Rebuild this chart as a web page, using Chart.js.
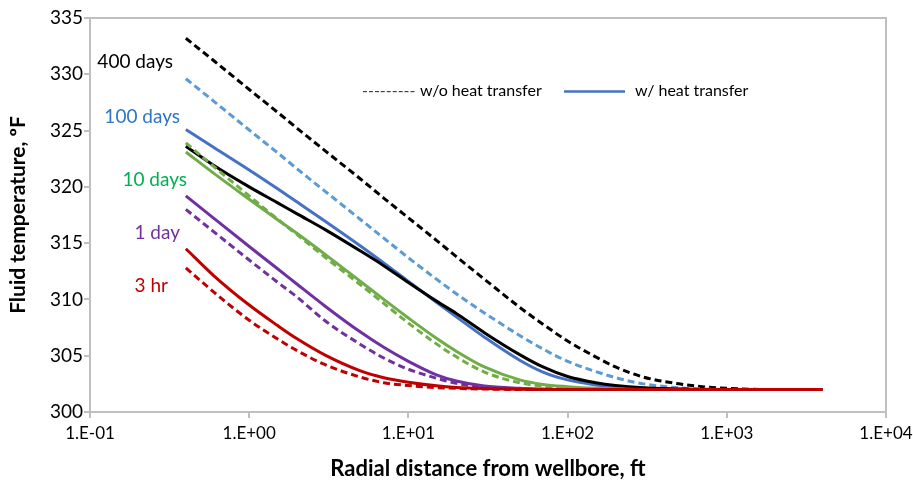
<!DOCTYPE html>
<html>
<head>
<meta charset="utf-8">
<script src="https://cdn.jsdelivr.net/npm/chart.js@4.4.1/dist/chart.umd.min.js"></script>
<style>
  html, body { margin: 0; padding: 0; background: #fff; }
  #wrap { width: 913px; height: 482px; }
</style>
</head>
<body>
<div id="wrap"><canvas id="tempChart" width="913" height="482"></canvas></div>
<script>
// radial distance from wellbore, ft (shared by all curves)
const radius = [0.4, 0.6, 1, 1.5, 2, 3, 5, 7, 10, 15, 20, 30, 50, 70, 100, 150, 200, 300, 500, 700, 1000, 2000, 4000];

// fluid temperature, F  (NoHT = without heat transfer, HT = with heat transfer)
const days400NoHT = [333.2, 331.2, 328.65, 326.65, 325.2, 323.2, 320.7, 319.0, 317.25, 315.25, 313.8, 311.8, 309.3, 307.8, 306.3, 304.9, 304.0, 303.1, 302.5, 302.25, 302.1, 302.0, 302.0];
const days100NoHT = [329.6, 327.6, 325.05, 323.05, 321.6, 319.6, 317.1, 315.45, 313.7, 311.8, 310.5, 308.8, 306.8, 305.6, 304.5, 303.6, 303.05, 302.5, 302.15, 302.05, 302.0, 302.0, 302.0];
const days100HT   = [325.1, 323.5, 321.5, 319.85, 318.65, 316.95, 314.75, 313.25, 311.6, 309.75, 308.45, 306.65, 304.6, 303.55, 302.85, 302.4, 302.22, 302.1, 302.03, 302.0, 302.0, 302.0, 302.0];
const days400HT   = [323.6, 321.9, 320.0, 318.6, 317.6, 316.2, 314.3, 313.0, 311.5, 309.85, 308.75, 307.05, 305.1, 304.0, 303.15, 302.6, 302.35, 302.15, 302.05, 302.0, 302.0, 302.0, 302.0];
const days10HT    = [323.1, 321.2, 318.9, 317.1, 315.85, 314.0, 311.6, 310.0, 308.35, 306.55, 305.4, 304.0, 302.85, 302.45, 302.25, 302.1, 302.05, 302.0, 302.0, 302.0, 302.0, 302.0, 302.0];
const days10NoHT  = [323.9, 321.8, 319.2, 317.15, 315.75, 313.75, 311.3, 309.65, 307.9, 306.05, 304.9, 303.55, 302.6, 302.3, 302.12, 302.04, 302.0, 302.0, 302.0, 302.0, 302.0, 302.0, 302.0];
const day1HT      = [319.2, 317.2, 314.7, 312.75, 311.35, 309.4, 307.1, 305.75, 304.5, 303.3, 302.75, 302.3, 302.1, 302.04, 302.0, 302.0, 302.0, 302.0, 302.0, 302.0, 302.0, 302.0, 302.0];
const day1NoHT    = [318.0, 316.0, 313.5, 311.55, 310.2, 308.1, 306.0, 304.8, 303.8, 303.0, 302.55, 302.2, 302.05, 302.0, 302.0, 302.0, 302.0, 302.0, 302.0, 302.0, 302.0, 302.0, 302.0];
const hr3HT       = [314.5, 312.1, 309.5, 307.7, 306.5, 305.05, 303.65, 303.05, 302.65, 302.33, 302.18, 302.08, 302.02, 302.0, 302.0, 302.0, 302.0, 302.0, 302.0, 302.0, 302.0, 302.0, 302.0];
const hr3NoHT     = [312.8, 310.65, 308.15, 306.5, 305.45, 304.2, 303.1, 302.6, 302.35, 302.17, 302.1, 302.04, 302.0, 302.0, 302.0, 302.0, 302.0, 302.0, 302.0, 302.0, 302.0, 302.0, 302.0];

const xTicks = [0.1, 1, 10, 100, 1000, 10000];
const yTicks = [300, 305, 310, 315, 320, 325, 330, 335];

const caseLabels = ["400 days", "100 days", "10 days", "1 day", "3 hr"];
const legendLabels = ["w/o heat transfer", "w/ heat transfer"];

const GRAY = "#bfbfbf";
const FONT = "Lato, 'Open Sans', sans-serif";

function toPoints(vals) {
    return radius.map((r, i) => ({ x: r, y: vals[i] }));
}

function curve(vals, color, dashed, order) {
    return {
        data: toPoints(vals),
        borderColor: color,
        borderWidth: 3,
        borderDash: dashed ? [7, 4] : [],
        pointRadius: 0,
        fill: false,
        cubicInterpolationMode: "monotone",
        order: order
    };
}

// plot box, case labels and legend drawn over the chart
const annotations = {
    id: "annotations",
    afterDraw(chart) {
        const ctx = chart.ctx;
        const a = chart.chartArea;
        ctx.save();

        ctx.strokeStyle = GRAY;
        ctx.lineWidth = 2;
        ctx.strokeRect(a.left, a.top, a.right - a.left, a.bottom - a.top);

        const spots = [
            { x: 173, y: 62, color: "#000000" },
            { x: 180, y: 117, color: "#2e75c6" },
            { x: 187, y: 180, color: "#00b050" },
            { x: 180, y: 233, color: "#7030a0" },
            { x: 168, y: 286, color: "#c00000" }
        ];
        ctx.font = "19px " + FONT;
        ctx.textAlign = "right";
        ctx.textBaseline = "middle";
        caseLabels.forEach((t, i) => {
            ctx.fillStyle = spots[i].color;
            ctx.fillText(t, spots[i].x, spots[i].y);
        });

        ctx.font = "16px " + FONT;
        ctx.textAlign = "left";
        ctx.fillStyle = "#404040";
        ctx.fillText("---------", 362, 91);
        ctx.fillStyle = "#000000";
        ctx.fillText(legendLabels[0], 420, 91);
        ctx.strokeStyle = "#4472c4";
        ctx.lineWidth = 2.5;
        ctx.beginPath();
        ctx.moveTo(564, 91.5);
        ctx.lineTo(625, 91.5);
        ctx.stroke();
        ctx.fillText(legendLabels[1], 635, 91);

        ctx.restore();
    }
};

new Chart(document.getElementById("tempChart"), {
    type: "line",
    data: {
        datasets: [
            curve(hr3HT, "#c00000", false, 1),
            curve(hr3NoHT, "#c00000", true, 2),
            curve(day1HT, "#7030a0", false, 3),
            curve(day1NoHT, "#7030a0", true, 4),
            curve(days10NoHT, "#70ad47", true, 6),
            curve(days10HT, "#70ad47", false, 5),
            curve(days400HT, "#000000", false, 7),
            curve(days100HT, "#4472c4", false, 8),
            curve(days100NoHT, "#5b9bd5", true, 9),
            curve(days400NoHT, "#000000", true, 10)
        ]
    },
    options: {
        responsive: false,
        animation: false,
        layout: { padding: { top: 18, right: 27, left: 0, bottom: 0 } },
        plugins: {
            legend: { display: false },
            tooltip: { enabled: false }
        },
        scales: {
            x: {
                type: "logarithmic",
                min: 0.1,
                max: 10000,
                afterBuildTicks: (s) => { s.ticks = xTicks.map(v => ({ value: v })); },
                afterFit: (s) => { s.height = 70; s.paddingLeft = 0; s.paddingRight = 0; },
                grid: { drawOnChartArea: false, color: GRAY, tickLength: 6, lineWidth: 2 },
                border: { color: GRAY, width: 2 },
                ticks: {
                    color: "#000",
                    font: { family: FONT, size: 17 },
                    padding: 5,
                    maxRotation: 0,
                    autoSkip: false,
                    callback: (v) => {
                        const e = Math.round(Math.log10(v));
                        return "1.E" + (e < 0 ? "-" : "+") + String(Math.abs(e)).padStart(2, "0");
                    }
                },
                title: {
                    display: true,
                    text: "Radial distance from wellbore, ft",
                    color: "#000",
                    font: { family: FONT, size: 22, weight: "bold" },
                    padding: { top: 0, bottom: 0 }
                }
            },
            y: {
                min: 300,
                max: 335,
                afterBuildTicks: (s) => { s.ticks = yTicks.map(v => ({ value: v })); },
                afterFit: (s) => { s.width = 90; },
                grid: { drawOnChartArea: false, color: GRAY, tickLength: 6, lineWidth: 2 },
                border: { color: GRAY, width: 2 },
                ticks: {
                    color: "#000",
                    font: { family: FONT, size: 19 },
                    padding: 1
                },
                title: {
                    display: true,
                    text: "Fluid temperature, ºF",
                    color: "#000",
                    font: { family: FONT, size: 21, weight: "bold" },
                    padding: { top: 6, bottom: 0 }
                }
            }
        }
    },
    plugins: [annotations]
});
</script>
</body>
</html>
